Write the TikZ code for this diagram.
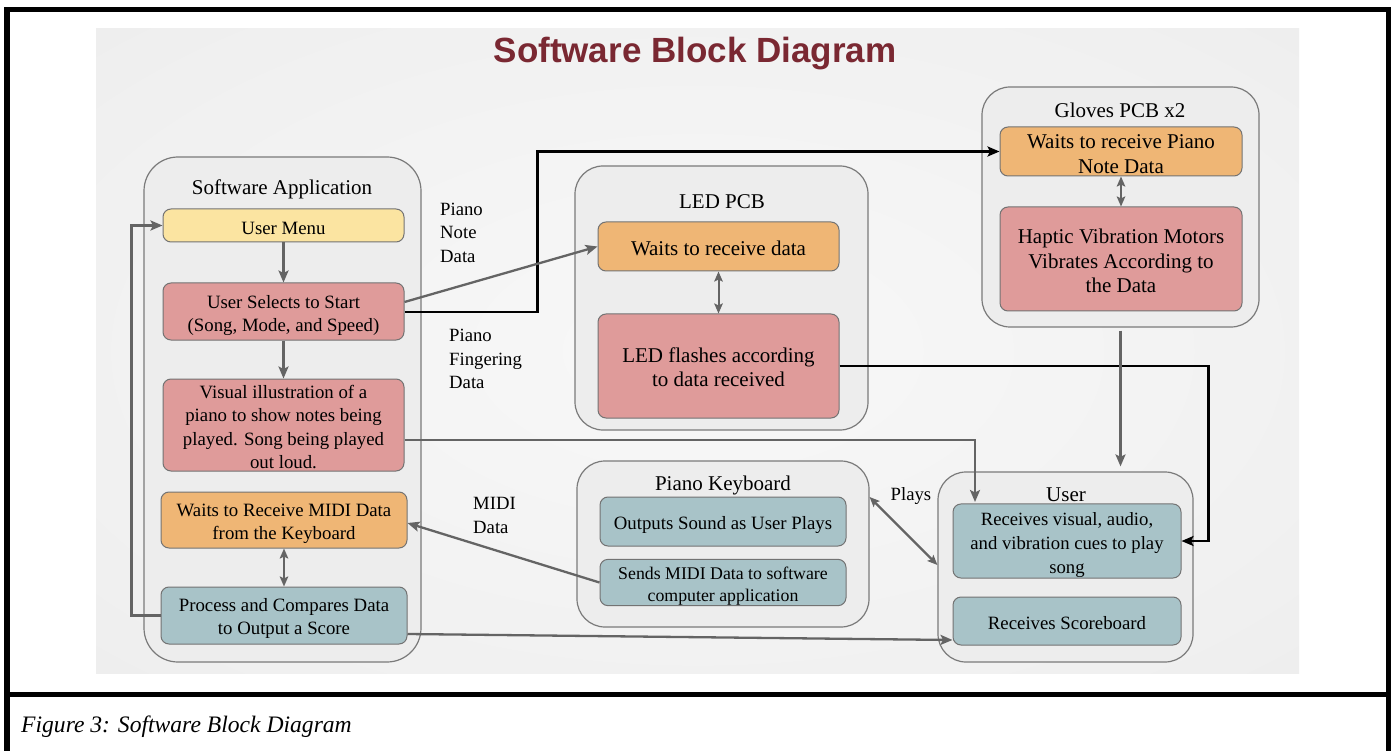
\documentclass[tikz,border=0pt]{standalone}
\usepackage{fontspec}
\setmainfont{Liberation Serif}
\newfontfamily\sansttl{Liberation Sans}
\usetikzlibrary{arrows.meta}
\definecolor{bgin}{HTML}{F8F8F8}
\definecolor{bgmid}{HTML}{F0F0F0}
\definecolor{bgout}{HTML}{E0E0E0}
\definecolor{contfill}{HTML}{EDEDED}
\definecolor{contborder}{HTML}{7A7A7A}
\definecolor{boxborder}{HTML}{737373}
\definecolor{cyellow}{HTML}{FBE4A1}
\definecolor{cpink}{HTML}{DF9B9A}
\definecolor{corange}{HTML}{EFB675}
\definecolor{cblue}{HTML}{A8C3C8}
\definecolor{arrgray}{HTML}{646464}
\definecolor{titlered}{HTML}{7A2832}
\newcommand{\lowr}[1]{\rule{0pt}{#1pt}}
\pgfdeclareradialshading{bgshade}{\pgfpoint{0bp}{0bp}}{color(0bp)=(bgin); color(30bp)=(bgmid); color(71bp)=(bgout)}
\tikzset{
  cont/.style={draw=contborder, fill=contfill, rounded corners=28pt, line width=1.2pt, inner sep=0pt},
  box/.style={draw=boxborder, rounded corners=8pt, line width=1pt, align=center, inner sep=0pt},
  fa/.style={font=\fontsize{18.8}{23.3}\selectfont},
  fb/.style={font=\fontsize{21}{24.5}\selectfont},
  fc/.style={font=\fontsize{17.8}{22}\selectfont},
  ttl/.style={inner sep=0pt, font=\fontsize{21}{25}\selectfont},
  lbl/.style={inner sep=0pt, align=left, font=\fontsize{18.7}{23.5}\selectfont},
  garr/.style={draw=arrgray, line width=2.3pt, -{Stealth[length=12pt,width=10pt,inset=2.5pt]}},
  gdbl/.style={draw=arrgray, line width=2pt, {Stealth[length=10pt,width=8.5pt,inset=2pt]}-{Stealth[length=10pt,width=8.5pt,inset=2pt]}},
  barr/.style={draw=black, line width=2.3pt, -{Stealth[length=12pt,width=10pt,inset=2.5pt]}},
}
\begin{document}
\begin{tikzpicture}[x=1pt,y=-1pt]
\useasboundingbox (0,0) rectangle (1392,751);
\fill[white] (0,0) rectangle (1392,751);
\shade[shading=bgshade] (96,29) rectangle (1299,673);
% frame
\draw[line width=5.5pt] (7,751) -- (7,9.5) -- (1388.5,9.5) -- (1388.5,751);
\draw[line width=5pt] (4,694.5) -- (1391,694.5);
\node[anchor=base west, inner sep=0pt, font=\itshape\fontsize{23.6}{28}\selectfont] (caption) at (21,732) {Figure 3: Software Block Diagram};

% title
\node[anchor=base, inner sep=0pt, text=titlered, font=\sansttl\bfseries\fontsize{35}{40}\selectfont] (title) at (695,63) {Software Block Diagram};

% containers
\node[cont, minimum width=277pt, minimum height=505pt, rounded corners=34pt] (swapp) at (282.5,409.5) {};
\node[cont, minimum width=293pt, minimum height=264pt] (ledpcb) at (721.5,298) {};
\node[cont, minimum width=277pt, minimum height=240pt] (gloves) at (1120.5,207) {};
\node[cont, minimum width=292pt, minimum height=166pt] (keyboard) at (723,544) {};
\node[cont, minimum width=255pt, minimum height=190pt] (user) at (1065.5,567) {};

% container titles
\node[ttl] (swappttl) at (282,189) {Software Application};
\node[ttl] (ledttl) at (722,202) {LED PCB};
\node[ttl] (glovesttl) at (1120,110.5) {Gloves PCB x2};
\node[ttl] (keyttl) at (723,485) {Piano Keyboard};
\node[ttl] (userttl) at (1066,495) {User};

% software application boxes
\node[box, fa, fill=cyellow, minimum width=241pt, minimum height=33pt] (menu) at (283.5,225.5) {\lowr{19}User Menu};
\node[box, fa, fill=cpink, minimum width=241pt, minimum height=57pt] (selects) at (283.5,311.5) {\lowr{21}User Selects to Start\\(Song, Mode, and Speed)};
\node[box, fa, fill=cpink, minimum width=241pt, minimum height=92pt] (visual) at (283.5,425) {\lowr{17}Visual illustration of a\\piano to show notes being\\played. Song being played\\out loud.};
\node[box, fa, fill=corange, minimum width=246pt, minimum height=56pt] (midiwait) at (284,520) {\lowr{20}Waits to Receive MIDI Data\\from the Keyboard};
\node[box, fa, fill=cblue, minimum width=246pt, minimum height=57pt] (process) at (284,615.5) {\lowr{19}Process and Compares Data\\to Output a Score};

% LED PCB boxes
\node[box, fb, fill=corange, minimum width=241pt, minimum height=49pt] (ledwait) at (718.5,246.5) {\lowr{18.5}Waits to receive data};
\node[box, fb, fill=cpink, minimum width=241pt, minimum height=104pt] (ledflash) at (718.5,366) {\lowr{17.5}LED flashes according\\to data received};

% Gloves boxes
\node[box, fb, fill=corange, minimum width=242pt, minimum height=49pt] (glovewait) at (1121,151.5) {\lowr{19.5}Waits to receive Piano\\Note Data};
\node[box, fb, fill=cpink, minimum width=242pt, minimum height=104pt] (haptic) at (1121,259) {\lowr{18.5}Haptic Vibration Motors\\Vibrates According to\\the Data};

% Piano keyboard boxes
\node[box, fa, fill=cblue, minimum width=246pt, minimum height=49pt] (outputs) at (723,521.5) {\lowr{20}Outputs Sound as User Plays};
\node[box, fc, fill=cblue, minimum width=246pt, minimum height=45pt] (sends) at (723,582.5) {\lowr{20.5}Sends MIDI Data to software\\computer application};

% User boxes
\node[box, fill=cblue, minimum width=228pt, minimum height=72pt, font=\fontsize{18.7}{24}\selectfont] (receives) at (1067,541) {\lowr{22}Receives visual, audio,\\and vibration cues to play\\song};
\node[box, fa, fill=cblue, minimum width=228pt, minimum height=48pt] (scoreboard) at (1067,621) {\lowr{17}Receives Scoreboard};

% labels
\node[lbl, anchor=west] (lblnote) at (440,232.5) {Piano\\Note\\Data};
\node[lbl, anchor=west] (lblfinger) at (449,359) {Piano\\Fingering\\Data};
\node[lbl, anchor=west, font=\fontsize{18.7}{24}\selectfont] (lblmidi) at (473,515) {MIDI\\Data};
\node[lbl] (lblplays) at (911,496) {Plays};

% internal arrows
\draw[garr] (menu.south) -- (selects.north);
\draw[garr] (selects.south) -- (visual.north);
\draw[gdbl] (midiwait.south) -- (process.north);
\draw[gdbl] (ledwait.south) -- (ledflash.north);
\draw[gdbl] (glovewait.south) -- (haptic.north);

% loop back to menu
\draw[garr] (process.west) -- ++(-29,0) |- (menu.west);

% black connectors
\draw[barr] ([yshift=-0.5pt]selects.east) -- ++(133,0) |- (glovewait.west);
\draw[barr] (ledflash.east) -- ++(369,0) |- (receives.east);

% gray connectors
\draw[garr] ([yshift=9.5pt]selects.east) -- (ledwait.west);
\coordinate (uin) at (975,502);
\draw[garr] ([yshift=-15pt]visual.east) -| (uin);
\draw[garr] ([yshift=-3pt]gloves.south) -- ([yshift=5pt]gloves.south |- user.north);
\draw[garr] (sends.west) -- ([yshift=-3pt]midiwait.east);
\draw[garr] ([yshift=-18.5pt]process.east) -- ([yshift=-19pt]scoreboard.west);
\draw[gdbl, line width=2.3pt] ([yshift=47pt]keyboard.east) -- ([yshift=2pt]user.west);
\end{tikzpicture}
\end{document}
